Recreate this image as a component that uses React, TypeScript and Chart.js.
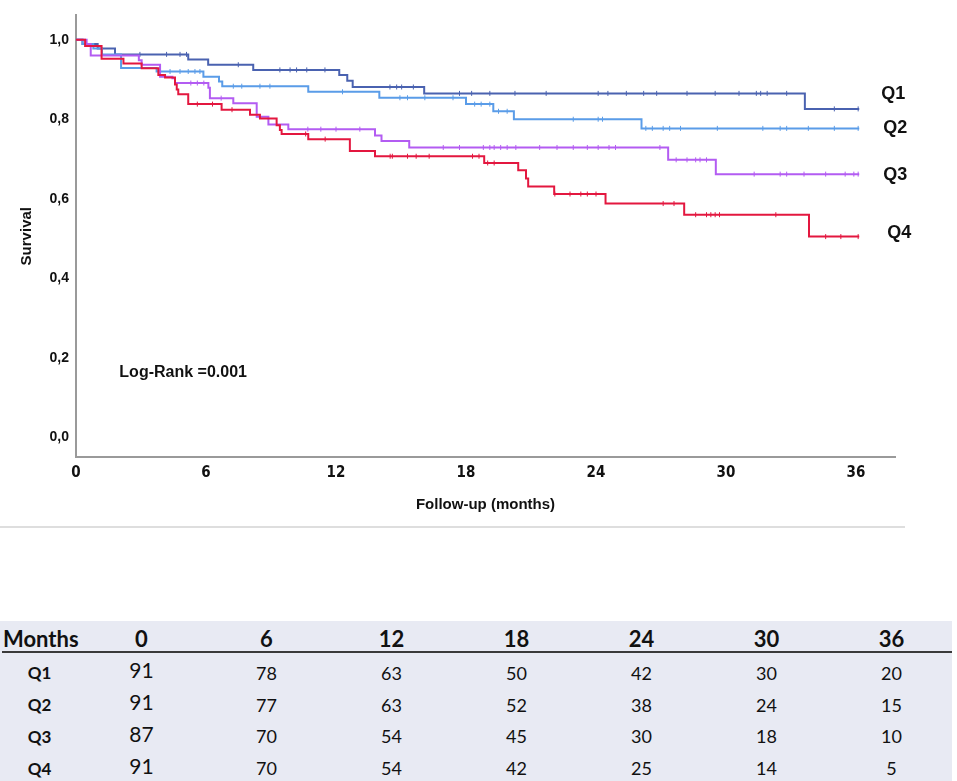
import { useEffect, useRef } from "react";
import { Chart, registerables, Plugin } from "chart.js";

Chart.register(...registerables);

// axis ticks
const monthTicks = [0, 6, 12, 18, 24, 30, 36];
const survivalTicks = [0, 0.2, 0.4, 0.6, 0.8, 1.0];

const groups = ["Q1", "Q2", "Q3", "Q4"];
const groupColors = ["#4a62b0", "#5a9ce8", "#b35cf2", "#e3173f"];

// Kaplan-Meier steps: time (months) and survival after each event
const q1Times = [0, 0.3, 1.0, 1.8, 5.18, 6.1, 8.18, 12.15, 12.52, 12.77, 16.07, 33.64, 36.15];
const q1Surv = [1, 0.989, 0.978, 0.963, 0.95, 0.937, 0.924, 0.911, 0.897, 0.881, 0.865, 0.826, 0.826];

const q2Times = [0, 0.3, 0.8, 1.2, 2.08, 3.72, 5.88, 6.6, 6.75, 10.72, 14.0, 18.0, 19.26, 20.21, 26.1, 36.15];
const q2Surv = [1, 0.989, 0.978, 0.963, 0.929, 0.92, 0.907, 0.895, 0.883, 0.869, 0.854, 0.838, 0.82, 0.8, 0.777, 0.777];

const q3Times = [0, 0.49, 0.68, 2.9, 3.03, 3.88, 4.45, 4.57, 6.11, 6.18, 7.26, 8.34, 8.88, 9.8, 13.8, 14.1, 15.38, 27.33, 29.53, 36.15];
const q3Surv = [1, 0.989, 0.96, 0.948, 0.937, 0.907, 0.903, 0.891, 0.879, 0.853, 0.84, 0.806, 0.787, 0.775, 0.759, 0.745, 0.729, 0.698, 0.662, 0.662];

const q4Times = [0, 0.42, 1.18, 2.19, 3.03, 3.8, 4.11, 4.57, 4.65, 4.72, 5.18, 6.72, 8.03, 8.49, 9.26, 9.41, 9.49, 10.72, 12.64, 13.8, 18.84, 20.41, 20.77, 20.87, 22.07, 24.44, 28.07, 33.83, 36.15];
const q4Surv = [1, 0.984, 0.952, 0.94, 0.928, 0.911, 0.905, 0.887, 0.875, 0.863, 0.838, 0.824, 0.811, 0.802, 0.785, 0.773, 0.763, 0.75, 0.72, 0.707, 0.69, 0.672, 0.651, 0.631, 0.612, 0.588, 0.56, 0.505, 0.505];

// censored observations (months)
const q1Censored = [2.95, 4.18, 4.8, 5.1, 7.49, 9.41, 9.88, 10.18, 10.65, 11.49, 14.49, 14.8, 15.03, 15.57, 17.7, 18.26, 19.1, 20.26, 21.7, 24.1, 24.55, 25.4, 26.2, 26.8, 28.2, 29.5, 30.6, 31.4, 31.6, 31.9, 32.8, 35.0, 36.1];
const q2Censored = [4.34, 4.8, 5.18, 5.49, 5.72, 7.26, 7.65, 8.49, 8.95, 12.3, 14.95, 15.3, 16.1, 17.4, 18.4, 18.7, 19.1, 19.5, 19.9, 22.95, 24.1, 24.3, 26.3, 26.6, 27.1, 27.4, 27.9, 29.6, 31.7, 32.5, 32.8, 33.8, 35.0, 36.1];
const q3Censored = [5.3, 5.6, 5.9, 6.7, 10.7, 11.3, 12.0, 13.1, 16.95, 17.7, 18.8, 19.1, 19.3, 19.6, 19.9, 20.3, 21.4, 22.2, 22.95, 23.6, 24.1, 24.6, 24.9, 26.95, 27.7, 28.2, 28.6, 28.8, 29.1, 31.3, 32.5, 32.8, 33.6, 34.6, 35.5, 35.9, 36.1];
const q4Censored = [5.6, 6.3, 7.2, 10.6, 11.5, 14.5, 14.6, 15.3, 15.7, 16.3, 18.3, 18.6, 19.0, 19.3, 22.1, 22.8, 23.3, 23.6, 24.0, 27.1, 27.6, 28.6, 29.1, 29.3, 29.5, 29.7, 32.3, 34.6, 35.3, 36.1];

// numbers at risk
const riskMonths = [0, 6, 12, 18, 24, 30, 36];
const q1AtRisk = [91, 78, 63, 50, 42, 30, 20];
const q2AtRisk = [91, 77, 63, 52, 38, 24, 15];
const q3AtRisk = [87, 70, 54, 45, 30, 18, 10];
const q4AtRisk = [91, 70, 54, 42, 25, 14, 5];

const logRankText = "Log-Rank =0.001";

const allTimes = [q1Times, q2Times, q3Times, q4Times];
const allSurv = [q1Surv, q2Surv, q3Surv, q4Surv];
const allCensored = [q1Censored, q2Censored, q3Censored, q4Censored];
const allAtRisk = [q1AtRisk, q2AtRisk, q3AtRisk, q4AtRisk];

function survivalAt(times: number[], surv: number[], t: number) {
  let s = surv[0];
  for (let i = 0; i < times.length; i++) {
    if (times[i] <= t) s = surv[i];
  }
  return s;
}

const sansFont = "'Liberation Sans', Arial, sans-serif";
const narrowFont = "'Liberation Sans Narrow', 'Arial Narrow', 'DejaVu Sans Condensed', sans-serif";

// label nudges for the group names at the right end of the curves
const labelNudge = [
  { dx: 22, dy: -15 },
  { dx: 24, dy: 0 },
  { dx: 24, dy: 1 },
  { dx: 28, dy: -4 },
];

const annotations: Plugin<"line"> = {
  id: "kmAnnotations",
  afterDraw(chart) {
    const { ctx } = chart;
    const xs = chart.scales.x;
    const ys = chart.scales.y;
    ctx.save();
    ctx.fillStyle = "#111";
    ctx.textBaseline = "middle";
    ctx.font = `bold 18px ${sansFont}`;
    groups.forEach((g, i) => {
      const times = allTimes[i];
      const surv = allSurv[i];
      const last = times.length - 1;
      const px = xs.getPixelForValue(times[last]) + labelNudge[i].dx;
      const py = ys.getPixelForValue(surv[last]) + labelNudge[i].dy;
      ctx.fillText(g, px, py);
    });
    ctx.font = `bold 16px ${sansFont}`;
    ctx.fillText(logRankText, xs.getPixelForValue(2.0), ys.getPixelForValue(0.163));
    ctx.restore();
  },
};

function KaplanMeierChart() {
  const canvasRef = useRef<HTMLCanvasElement>(null);
  const chartRef = useRef<Chart | null>(null);

  useEffect(() => {
    if (!canvasRef.current) return;
    if (chartRef.current) chartRef.current.destroy();

    const curveSets = groups.map((g, i) => ({
      label: g,
      data: allTimes[i].map((t, j) => ({ x: t, y: allSurv[i][j] })),
      borderColor: groupColors[i],
      borderWidth: 2,
      stepped: true as const,
      pointRadius: 0,
      fill: false,
      order: 4 - i,
    }));

    const censorSets = groups.map((g, i) => ({
      label: g + " censored",
      data: allCensored[i].map((t) => ({ x: t, y: survivalAt(allTimes[i], allSurv[i], t) })),
      showLine: false,
      pointStyle: "line" as const,
      rotation: 90,
      pointRadius: 2.5,
      pointBorderWidth: 1,
      borderColor: groupColors[i],
      backgroundColor: groupColors[i],
      order: 4 - i,
    }));

    chartRef.current = new Chart(canvasRef.current, {
      type: "line",
      data: { datasets: [...curveSets, ...censorSets] as any },
      options: {
        responsive: false,
        animation: false,
        layout: { padding: { left: 0, top: 2, right: 62, bottom: 0 } },
        plugins: {
          legend: { display: false },
          tooltip: { enabled: false },
        },
        scales: {
          x: {
            type: "linear",
            min: 0,
            max: 37.8,
            grid: { display: false, drawTicks: false },
            border: { display: true, color: "#9a9a9a", width: 2 },
            afterBuildTicks: (scale) => {
              scale.ticks = monthTicks.map((v) => ({ value: v }));
            },
            afterFit: (scale) => {
              scale.height = 73;
            },
            ticks: {
              padding: 7,
              color: "#111",
              font: { family: narrowFont, size: 15, weight: "bold" },
              callback: (v) => String(v),
            },
            title: {
              display: true,
              text: "Follow-up (months)",
              color: "#111",
              font: { family: sansFont, size: 15, weight: "bold" },
              padding: { top: 0, bottom: 16 },
            },
          },
          y: {
            type: "linear",
            min: -0.049,
            max: 1.061,
            grid: { display: false, drawTicks: false },
            border: { display: true, color: "#9a9a9a", width: 2 },
            afterBuildTicks: (scale) => {
              scale.ticks = survivalTicks.map((v) => ({ value: v }));
            },
            afterFit: (scale) => {
              scale.width = 76;
            },
            ticks: {
              padding: 7,
              color: "#111",
              font: { family: sansFont, size: 14, weight: "bold" },
              callback: (v) => Number(v).toFixed(1).replace(".", ","),
            },
            title: {
              display: true,
              text: "Survival",
              color: "#111",
              font: { family: sansFont, size: 15, weight: "bold" },
              padding: { top: 18, bottom: 0 },
            },
          },
        },
      },
      plugins: [annotations],
    });

    return () => {
      if (chartRef.current) {
        chartRef.current.destroy();
        chartRef.current = null;
      }
    };
  }, []);

  return <canvas ref={canvasRef} width={957} height={530} style={{ display: "block" }} />;
}

const tableFont = "Lato, 'Open Sans', sans-serif";
const firstCol = 79;
const colWidth = 125;

function RiskTable() {
  const rowCenter = 52;
  const rowHeight = 31.7;
  return (
    <div
      style={{
        position: "absolute",
        top: 621,
        left: 0,
        width: 952,
        height: 160,
        background: "#e8eaf3",
        fontFamily: tableFont,
        color: "#111",
      }}
    >
      <div style={{ position: "absolute", top: 0, left: 0, height: 34, display: "flex", alignItems: "center" }}>
        <div style={{ width: firstCol, paddingLeft: 3, fontWeight: 700, fontSize: 22, boxSizing: "border-box" }}>Months</div>
        {riskMonths.map((m) => (
          <div key={m} style={{ width: colWidth, textAlign: "center", fontWeight: 700, fontSize: 22 }}>
            {m}
          </div>
        ))}
      </div>
      <div style={{ position: "absolute", top: 30, left: 2, width: 950, height: 2, background: "#3a3a3a" }} />
      {groups.map((g, i) => (
        <div
          key={g}
          style={{
            position: "absolute",
            top: rowCenter - rowHeight / 2 + i * rowHeight,
            left: 0,
            height: rowHeight,
            display: "flex",
            alignItems: "center",
          }}
        >
          <div style={{ width: firstCol, textAlign: "center", fontWeight: 700, fontSize: 17 }}>{g}</div>
          {allAtRisk[i].map((n, j) => (
            <div
              key={j}
              style={{
                width: colWidth,
                textAlign: "center",
                fontSize: j === 0 ? 21 : 18,
                position: "relative",
                top: j === 0 ? -3 : 0,
              }}
            >
              {n}
            </div>
          ))}
        </div>
      ))}
    </div>
  );
}

export default function App() {
  return (
    <div style={{ position: "absolute", top: 0, left: 0, width: 957, height: 781, background: "#fff", overflow: "hidden" }}>
      <KaplanMeierChart />
      <div style={{ position: "absolute", top: 526, left: 0, width: 905, height: 2, background: "#dedede" }} />
      <RiskTable />
    </div>
  );
}
